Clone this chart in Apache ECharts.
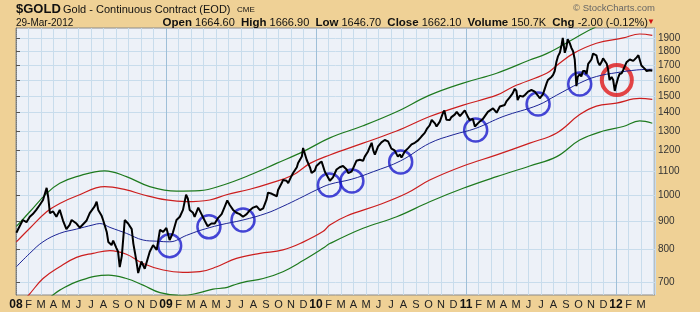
<!DOCTYPE html>
<html><head><meta charset="utf-8">
<script src="https://cdn.jsdelivr.net/npm/echarts@6/dist/echarts.min.js"></script>
<style>html,body{margin:0;padding:0;background:#EFD196;}#c{width:700px;height:312px;}</style>
</head><body><div id="c"></div>
<script>
// ---- data ----
const yTicks = [700,800,900,1000,1100,1200,1300,1400,1500,1600,1700,1800,1900];
const monthLetters = ['J','F','M','A','M','J','J','A','S','O','N','D'];

const price = [
['2008-01-02',857],['2008-01-10',880],['2008-01-18',903],['2008-01-27',895],['2008-02-04',915],['2008-02-11',925],['2008-02-19',941],['2008-02-27',960],
['2008-03-06',980],['2008-03-15',1030],['2008-03-19',990],['2008-03-23',929],['2008-03-31',935],['2008-04-08',915],['2008-04-16',941],['2008-04-24',900],
['2008-05-02',870],['2008-05-10',885],['2008-05-15',903],['2008-05-27',890],['2008-06-04',875],['2008-06-08',880],['2008-06-20',900],['2008-06-28',929],
['2008-07-10',955],['2008-07-15',973],['2008-07-19',941],['2008-07-27',920],['2008-07-31',903],['2008-08-09',860],['2008-08-13',825],['2008-08-21',815],
['2008-08-25',830],['2008-09-02',805],['2008-09-06',793],['2008-09-10',745],['2008-09-15',780],['2008-09-22',903],['2008-09-30',890],['2008-10-09',870],
['2008-10-13',820],['2008-10-17',790],['2008-10-21',760],['2008-10-25',727],['2008-11-02',762],['2008-11-10',740],['2008-11-14',745],['2008-11-22',793],
['2008-11-30',815],['2008-12-09',799],['2008-12-17',867],['2008-12-25',860],
['2009-01-02',874],['2009-01-10',832],['2009-01-18',857],['2009-01-27',903],['2009-02-04',915],['2009-02-11',941],['2009-02-18',1001],['2009-02-22',985],
['2009-02-26',941],['2009-03-06',930],['2009-03-10',915],['2009-03-19',950],['2009-03-27',925],['2009-04-04',900],['2009-04-11',880],['2009-04-20',890],
['2009-04-28',890],['2009-05-06',910],['2009-05-15',925],['2009-05-23',955],['2009-05-29',978],['2009-06-04',960],['2009-06-12',941],['2009-06-20',930],
['2009-06-28',925],['2009-07-06',915],['2009-07-15',925],['2009-07-23',940],['2009-07-31',950],['2009-08-09',955],['2009-08-17',940],['2009-08-25',947],
['2009-09-02',980],['2009-09-06',1010],['2009-09-15',1005],['2009-09-18',1001],['2009-09-27',995],['2009-09-30',1021],['2009-10-09',1050],['2009-10-12',1063],
['2009-10-21',1060],['2009-10-25',1050],['2009-11-02',1080],['2009-11-06',1094],['2009-11-15',1120],['2009-11-18',1140],['2009-11-27',1170],['2009-11-30',1212],
['2009-12-04',1220],['2009-12-09',1154],['2009-12-17',1120],['2009-12-21',1094],['2009-12-29',1105],
['2010-01-02',1126],['2010-01-10',1140],['2010-01-15',1146],['2010-01-23',1100],['2010-01-27',1094],['2010-02-04',1060],['2010-02-11',1075],['2010-02-19',1110],
['2010-02-26',1120],['2010-03-06',1126],['2010-03-15',1110],['2010-03-19',1094],['2010-03-27',1100],['2010-03-31',1115],['2010-04-08',1150],['2010-04-16',1155],
['2010-04-24',1150],['2010-04-28',1170],['2010-05-06',1195],['2010-05-10',1215],['2010-05-15',1238],['2010-05-19',1200],['2010-05-23',1180],['2010-05-31',1220],
['2010-06-08',1240],['2010-06-16',1252],['2010-06-24',1245],['2010-07-02',1209],['2010-07-10',1200],['2010-07-18',1170],['2010-07-23',1180],['2010-07-27',1165],
['2010-08-04',1195],['2010-08-12',1210],['2010-08-21',1230],['2010-08-29',1238],['2010-09-06',1250],['2010-09-14',1270],['2010-09-22',1289],['2010-09-27',1310],
['2010-10-04',1330],['2010-10-09',1359],['2010-10-17',1340],['2010-10-21',1323],['2010-10-29',1350],['2010-11-06',1400],['2010-11-09',1413],['2010-11-14',1360],
['2010-11-22',1359],['2010-11-26',1375],['2010-12-04',1389],['2010-12-09',1405],['2010-12-17',1380],['2010-12-21',1389],['2010-12-29',1413],
['2011-01-06',1375],['2011-01-10',1359],['2011-01-18',1365],['2011-01-23',1323],['2011-01-27',1318],['2011-02-04',1351],['2011-02-11',1365],['2011-02-15',1375],
['2011-02-22',1405],['2011-02-26',1415],['2011-03-06',1425],['2011-03-15',1400],['2011-03-23',1436],['2011-03-27',1425],['2011-04-04',1445],['2011-04-08',1466],
['2011-04-16',1490],['2011-04-20',1500],['2011-04-23',1515],['2011-04-28',1544],['2011-05-02',1530],['2011-05-05',1474],['2011-05-10',1500],['2011-05-18',1495],
['2011-05-23',1505],['2011-05-31',1526],['2011-06-08',1536],['2011-06-16',1526],['2011-06-20',1536],['2011-06-24',1500],['2011-06-28',1485],['2011-07-06',1510],
['2011-07-15',1580],['2011-07-18',1600],['2011-07-27',1620],['2011-07-31',1634],['2011-08-04',1660],['2011-08-08',1720],['2011-08-12',1762],['2011-08-17',1790],
['2011-08-21',1846],['2011-08-24',1900],['2011-08-29',1788],['2011-09-02',1830],['2011-09-05',1890],['2011-09-10',1860],['2011-09-14',1824],['2011-09-18',1800],
['2011-09-22',1740],['2011-09-26',1560],['2011-09-29',1620],['2011-10-04',1640],['2011-10-08',1623],['2011-10-12',1660],['2011-10-17',1660],['2011-10-21',1640],
['2011-10-25',1709],['2011-11-02',1740],['2011-11-06',1782],['2011-11-14',1770],['2011-11-18',1721],['2011-11-22',1700],['2011-11-26',1720],['2011-11-30',1748],
['2011-12-04',1740],['2011-12-09',1710],['2011-12-12',1676],['2011-12-16',1600],['2011-12-21',1620],['2011-12-25',1600],['2011-12-29',1530],
['2012-01-02',1575],['2012-01-06',1612],['2012-01-10',1640],['2012-01-15',1645],['2012-01-19',1667],['2012-01-23',1680],['2012-01-27',1720],['2012-01-31',1721],
['2012-02-04',1740],['2012-02-08',1745],['2012-02-12',1730],['2012-02-16',1740],['2012-02-20',1755],['2012-02-24',1771],['2012-02-28',1785],['2012-03-02',1698],
['2012-03-06',1690],['2012-03-10',1676],['2012-03-15',1660],['2012-03-19',1654],['2012-03-23',1665],['2012-03-29',1662]
];

const movingAvg = [
['2008-01-02',746],['2008-02-04',788],['2008-03-06',826],['2008-04-16',855],['2008-05-27',870],['2008-07-06',885],['2008-07-23',890],['2008-08-17',876],
['2008-09-26',855],['2008-11-06',832],['2008-12-09',828],['2009-01-10',826],['2009-02-19',848],['2009-03-23',865],['2009-05-11',885],['2009-07-06',903],
['2009-09-02',928],['2009-10-12',955],['2009-11-22',987],['2010-01-02',1021],['2010-02-04',1045],['2010-03-28',1067],['2010-05-19',1100],['2010-07-25',1150],
['2010-10-04',1236],['2010-11-30',1279],['2011-01-25',1313],['2011-03-31',1378],['2011-06-24',1444],['2011-08-09',1504],['2011-10-04',1580],['2011-11-14',1623],
['2012-01-03',1649],['2012-02-20',1667],['2012-03-29',1672]
];

const upperRed = [
['2008-01-02',826],['2008-02-04',873],['2008-03-15',934],['2008-04-16',966],['2008-05-27',996],['2008-08-04',1035],['2008-09-26',1021],['2008-11-06',1001],
['2009-01-02',980],['2009-02-19',973],['2009-04-16',980],['2009-05-27',1001],['2009-07-23',1024],['2009-09-10',1049],['2009-11-06',1085],['2009-12-17',1138],
['2010-02-04',1178],['2010-04-24',1236],['2010-07-15',1299],['2010-10-04',1378],['2010-12-25',1444],['2011-03-15',1504],['2011-04-24',1557],['2011-07-15',1645],
['2011-08-09',1698],['2011-09-18',1782],['2011-11-14',1859],['2012-01-19',1900],['2012-02-27',1931],['2012-03-29',1920]
];

const lowerRed = [
['2008-01-02',632],['2008-02-01',664],['2008-03-06',711],['2008-04-16',746],['2008-05-27',775],['2008-07-06',788],['2008-08-17',797],['2008-09-26',785],
['2008-11-06',756],['2008-12-25',736],['2009-02-11',729],['2009-03-23',731],['2009-05-03',746],['2009-06-20',772],['2009-08-17',788],['2009-10-12',799],
['2009-11-30',825],['2010-01-19',862],['2010-02-04',885],['2010-03-15',918],['2010-06-04',962],['2010-08-09',1007],['2010-10-04',1063],['2010-12-25',1126],
['2011-03-15',1178],['2011-06-04',1236],['2011-08-09',1289],['2011-10-04',1389],['2011-11-14',1438],['2012-01-02',1456],['2012-02-27',1484],['2012-03-29',1478]
];

const upperGreen = [
['2008-01-02',880],['2008-02-04',934],['2008-03-15',1007],['2008-04-16',1049],['2008-05-27',1078],['2008-08-04',1104],['2008-09-26',1078],['2008-11-22',1035],
['2009-01-27',1016],['2009-03-23',1018],['2009-05-19',1042],['2009-07-23',1085],['2009-09-26',1138],['2009-11-30',1194],['2010-02-04',1263],['2010-04-24',1327],
['2010-07-15',1405],['2010-10-04',1504],['2010-12-25',1580],['2011-03-15',1645],['2011-06-04',1736],['2011-07-15',1782],['2011-09-18',1890],['2011-11-14',1989],
['2012-01-02',2040],['2012-03-29',2100]
];

const lowerGreen = [
['2008-03-01',640],['2008-03-30',664],['2008-04-16',678],['2008-06-04',705],['2008-08-13',721],['2008-09-26',711],['2008-11-06',692],['2008-12-17',671],
['2009-02-08',663],['2009-03-23',671],['2009-04-24',681],['2009-05-23',684],['2009-06-13',692],['2009-07-06',700],['2009-08-25',711],['2009-10-12',731],
['2009-11-30',765],['2010-01-19',805],['2010-02-04',820],['2010-04-24',873],['2010-07-15',915],['2010-10-04',973],['2010-12-25',1028],['2011-03-15',1078],
['2011-06-04',1126],['2011-08-09',1170],['2011-10-04',1252],['2011-11-30',1299],['2012-01-19',1323],['2012-02-27',1354],['2012-03-29',1341]
];

const blueCircles = [
['2009-01-10',813],['2009-04-14',878],['2009-07-06',903],['2010-02-03',1042],['2010-03-28',1059],['2010-07-25',1145],['2011-01-25',1304],['2011-06-24',1451],['2011-10-04',1574]
];
const redCircles = [['2012-01-03',1600]];

// ---- helpers ----
function monthIndex(d){
  const p = d.split('-').map(Number);
  const dim = new Date(p[0], p[1], 0).getDate();
  return (p[0]-2008)*12 + (p[1]-1) + (p[2]-1)/dim;
}
function conv(arr){ return arr.map(function(r){ return [monthIndex(r[0]), Math.log(r[1])]; }); }

const yMin = 6.4992, yMax = 7.5903;
const vColors = ['#9FBFD8'].concat(new Array(11).fill('#C8DCEC'));

const chart = echarts.init(document.getElementById('c'), null, {renderer:'canvas'});
const font = 'Liberation Sans, Arial, sans-serif';
chart.setOption({
  backgroundColor:'#EFD196',
  animation:false,
  textStyle:{fontFamily:font},
  grid:{left:16,right:45,top:28,bottom:17,show:true,backgroundColor:'#EDF1F8',borderColor:'#8a8a8a',borderWidth:1,outerBoundsMode:'none',containLabel:false},
  xAxis:{type:'value',min:0,max:51.12,interval:1,
    axisLine:{show:false},axisTick:{show:false},
    splitLine:{show:true,lineStyle:{color:vColors,width:1}},
    axisLabel:{margin:4,color:'#222',fontSize:11,fontFamily:font,showMaxLabel:false,
      formatter:function(v){ const i=Math.round(v); if(i>50) return ''; if(i%12===0) return '{y|'+String(8+i/12).padStart(2,'0')+'}'; return monthLetters[i%12]; },
      rich:{y:{fontWeight:'bold',fontSize:12,color:'#111',fontFamily:font}}}
  },
  yAxis:{type:'value',position:'right',min:yMin,max:yMax,
    axisLine:{show:true,lineStyle:{color:'#777',type:'dotted'}},
    axisTick:{show:true,length:4,customValues:yTicks.map(Math.log),lineStyle:{color:'#555'}},
    splitLine:{show:true,lineStyle:{color:'#C8DCEC'}},
    axisLabel:{customValues:yTicks.map(Math.log),margin:3,color:'#333',fontSize:10,fontFamily:font,
      formatter:function(v){ return String(Math.round(Math.exp(v)/100)*100); }}
  },
  graphic:[
    {type:'text',left:16,top:3,style:{text:'$GOLD',font:'bold 13px '+font,fill:'#111'}},
    {type:'text',left:63,top:4,style:{text:'Gold - Continuous Contract (EOD)',font:'11px '+font,fill:'#111'}},
    {type:'text',left:237,top:6,style:{text:'CME',font:'8px '+font,fill:'#111'}},
    {type:'text',left:16,top:18,style:{text:'29-Mar-2012',font:'10px '+font,fill:'#111'}},
    {type:'text',right:52,top:17,style:{
      text:'{b|Open} 1664.60  {b|High} 1666.90  {b|Low} 1646.70  {b|Close} 1662.10  {b|Volume} 150.7K  {b|Chg} -2.00 (-0.12%)',
      font:'11px '+font,fill:'#111',rich:{b:{fontWeight:'bold',fontSize:11.5,fontFamily:font,fill:'#111'}}}},
    {type:'text',right:45,top:18,style:{text:'▼',font:'8px '+font,fill:'#D01010'}},
    {type:'text',right:45,top:3,style:{text:'© StockCharts.com',font:'9.5px '+font,fill:'#666'}}
  ],
  series:[
    {type:'line',data:conv(upperGreen),smooth:0.4,symbol:'none',lineStyle:{color:'#1E7A1E',width:1.2},silent:true},
    {type:'line',data:conv(lowerGreen),smooth:0.4,symbol:'none',lineStyle:{color:'#1E7A1E',width:1.2},silent:true},
    {type:'line',data:conv(upperRed),smooth:0.4,symbol:'none',lineStyle:{color:'#CC1E1E',width:1.2},silent:true},
    {type:'line',data:conv(lowerRed),smooth:0.4,symbol:'none',lineStyle:{color:'#CC1E1E',width:1.2},silent:true},
    {type:'line',data:conv(movingAvg),smooth:0.4,symbol:'none',lineStyle:{color:'#1C2496',width:1},silent:true},
    {type:'line',data:conv(price),symbol:'none',lineStyle:{color:'#000',width:2},silent:true},
    {type:'scatter',data:conv(blueCircles),symbol:'circle',symbolSize:23,silent:true,
      itemStyle:{color:'rgba(0,0,0,0)',borderColor:'#1A1ACC',borderWidth:2.5}},
    {type:'scatter',data:conv(redCircles),symbol:'circle',symbolSize:30,silent:true,
      itemStyle:{color:'rgba(0,0,0,0)',borderColor:'#E01818',borderWidth:4}}
  ]
});
</script></body></html>
